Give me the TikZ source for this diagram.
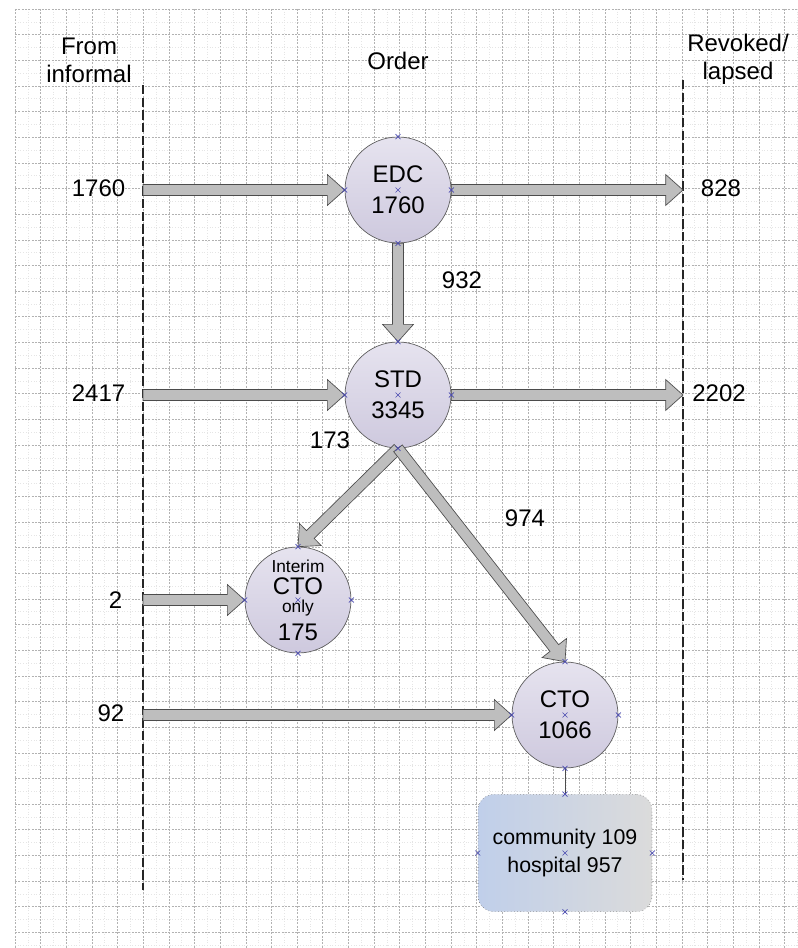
\documentclass[tikz,border=0pt]{standalone}
\usepackage{fontspec}
\setmainfont{Liberation Sans}
\usetikzlibrary{positioning,calc}

\definecolor{ordfill}{HTML}{E6E3EF}
\definecolor{ordfilldk}{HTML}{CEC9DE}
\definecolor{boxblue}{HTML}{C0CFEA}
\definecolor{boxgray}{HTML}{DBDBDB}
\definecolor{arrfill}{HTML}{BEBEBE}
\definecolor{cpblue}{HTML}{4A4AB0}

% block arrow from #1 to #2 (tip at #2)
\newcommand{\fatarrow}[2]{%
  \coordinate (fa-h) at ($(#2)!13pt!(#1)$);
  \draw[fatarr] ($(#1)!4.1pt!90:(#2)$) -- ($(fa-h)!4.1pt!90:(#2)$) -- ($(fa-h)!11.6pt!90:(#2)$)
    -- (#2) -- ($(fa-h)!11.6pt!-90:(#2)$) -- ($(fa-h)!4.1pt!-90:(#2)$) -- ($(#1)!4.1pt!-90:(#2)$) -- cycle;}
% connection point cross
\newcommand{\cpmark}[1]{%
  \draw[cpm] ($(#1)+(-2.5,-2.5)$) -- ++(5,5) ($(#1)+(-2.5,2.5)$) -- ++(5,-5);}

\begin{document}
\begin{tikzpicture}[
  x=0.75pt,y=-0.75pt,
  font=\fontsize{18}{20}\selectfont,
  gridmaj/.style={gray!60,line width=0.5pt,dash pattern=on 1.5pt off 1pt},
  gridmin/.style={gray!20,line width=0.4pt,dash pattern=on 0.8pt off 1.2pt},
  border/.style={black!85,line width=0.8pt,dash pattern=on 7pt off 2.5pt},
  order/.style={circle,draw=black!65,line width=0.5pt,top color=ordfill,bottom color=ordfilldk,
                minimum size=79.5pt,inner sep=0pt,align=center,font=\fontsize{18}{23}\selectfont},
  summary/.style={rectangle,rounded corners=12pt,draw=black!60,dotted,left color=boxblue,right color=boxgray,
                  minimum width=130.5pt,minimum height=88pt,align=center,font=\fontsize{16}{21}\selectfont},
  fatarr/.style={fill=arrfill,draw=black!70,line width=0.5pt,line join=miter},
  count/.style={font=\fontsize{18}{20}\selectfont},
  head/.style={align=center,font=\fontsize{18}{21}\selectfont},
  cpm/.style={cpblue,line width=0.5pt},
  link/.style={black!70,line width=0.6pt},
]
\useasboundingbox (0,0) rectangle (797,948);

% ===== grid =====
\foreach \i in {0,...,30} {
  \draw[gridmin] (27.8+25.65*\i,9) -- (27.8+25.65*\i,948);
  \draw[gridmaj] (15+25.65*\i,9) -- (15+25.65*\i,948);
}
\foreach \j in {0,...,36} {
  \draw[gridmin] (15,21.8+25.65*\j) -- (797,21.8+25.65*\j);
  \draw[gridmaj] (15,9+25.65*\j) -- (797,9+25.65*\j);
}

% ===== column heads and borders =====
\node[head] (fromT) at (89,60) {From\\informal};
\node[head] (orderT) at (398,61) {Order};
\node[head] (revT) at (738,59) {Revoked/\\lapsed};

\coordinate (inTop) at (143,85);
\coordinate (inBot) at (143,890);
\coordinate (outTop) at (683,80);
\coordinate (outBot) at (683,880);
\draw[border] (inTop) -- (inBot);
\draw[border] (outTop) -- (outBot);

% ===== orders =====
\node[order] (edc) at (398,190) {EDC\\1760};
\node[order] (std) at (398,395) {STD\\3345};
\node[order] (icto) at (298,600) {{\fontsize{13}{13}\selectfont Interim}\\[-6pt]CTO\\[-10pt]{\fontsize{13}{13}\selectfont only}\\[-2pt]175};
\node[order] (cto) at (565,715) {CTO\\1066};
\node[summary] (split) at (565,853) {community 109\\hospital 957};

% ===== flows =====
\coordinate (edcIn) at ($(inTop)!(edc.west)!(inBot)$);
\coordinate (stdIn) at ($(inTop)!(std.west)!(inBot)$);
\coordinate (ictoIn) at ($(inTop)!(icto.west)!(inBot)$);
\coordinate (ctoIn) at ($(inTop)!(cto.west)!(inBot)$);
\coordinate (edcOut) at ($(outTop)!(edc.east)!(outBot)$);
\coordinate (stdOut) at ($(outTop)!(std.east)!(outBot)$);

\fatarrow{edcIn}{edc.west}
\fatarrow{edc.east}{edcOut}
\fatarrow{edc.south}{std.north}
\fatarrow{stdIn}{std.west}
\fatarrow{std.east}{stdOut}
\fatarrow{std.south}{icto.north}
\fatarrow{std.south}{cto.north}
\fatarrow{ictoIn}{icto.west}
\fatarrow{ctoIn}{cto.west}
\draw[link] (cto.south) -- (split.north);

% ===== counts =====
\node[count,anchor=east] (nEdcIn) at (130,188) {1760};
\node[count,anchor=east] (nStdIn) at (130,393) {2417};
\node[count,anchor=east] (nIctoIn) at (127,600) {2};
\node[count,anchor=east] (nCtoIn) at (129,713) {92};
\node[count] (nEdcOut) at (721,188) {828};
\node[count] (nStdOut) at (719,393) {2202};
\node[count] (nEdcStd) at (462,280) {932};
\node[count] (nStdIcto) at (330,440) {173};
\node[count] (nStdCto) at (525,518) {974};

% ===== connection points =====
\foreach \n in {edc,std,icto,cto,split} {
  \foreach \a in {north,south,east,west,center} {
    \cpmark{\n.\a}
  }
}
\end{tikzpicture}
\end{document}
